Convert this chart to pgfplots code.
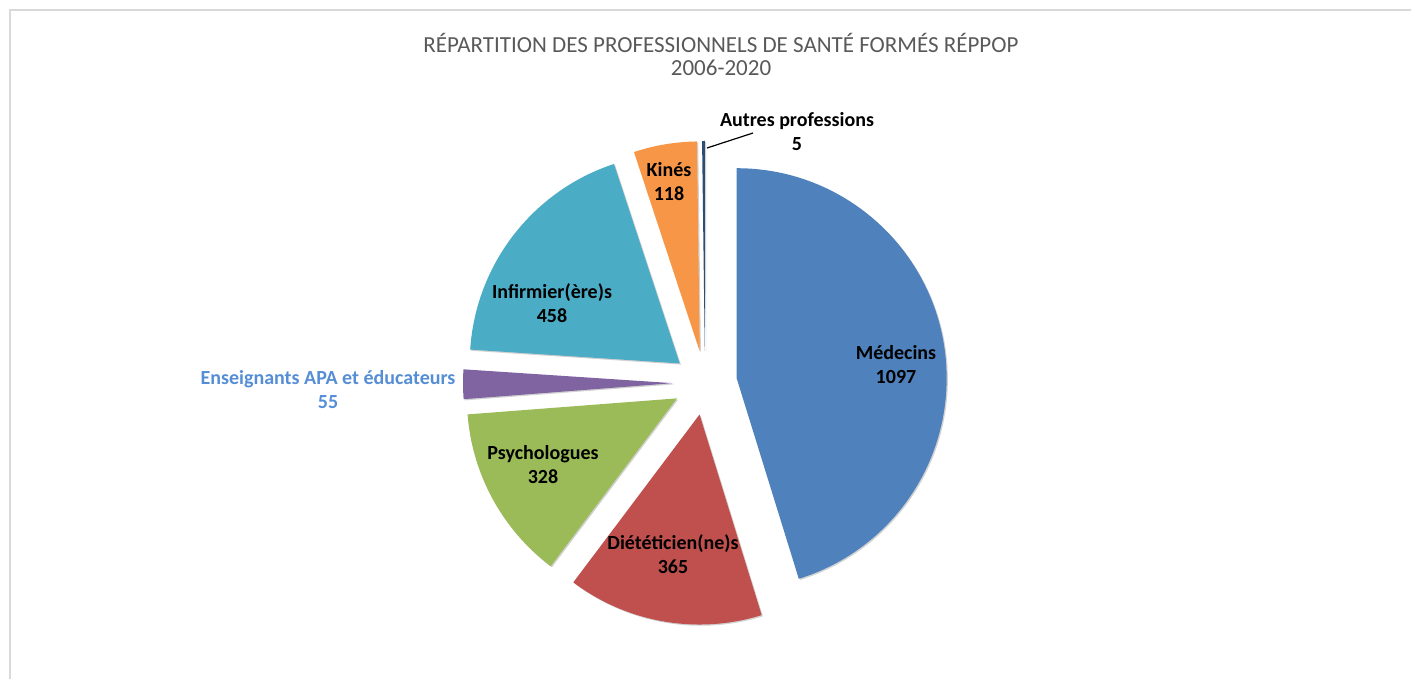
\documentclass[border=0pt]{standalone}
\usepackage{pgfplots}
\pgfplotsset{compat=1.18}
\usepackage{pgfplotstable}
\usepackage{fontspec}
\setmainfont{Carlito}
\usetikzlibrary{calc,shadows}

\definecolor{cMed}{HTML}{4F81BD}
\definecolor{cDiet}{HTML}{C0504D}
\definecolor{cPsy}{HTML}{9BBB59}
\definecolor{cEns}{HTML}{8064A2}
\definecolor{cInf}{HTML}{4BACC6}
\definecolor{cKin}{HTML}{F79646}
\definecolor{cAut}{HTML}{2C4D75}
\definecolor{titlegray}{HTML}{595959}
\definecolor{enslabel}{HTML}{558ED5}

\tikzset{lab/.style={font=\bfseries\fontsize{10}{12}\selectfont, align=center, text=black}}

% counts per profession, clockwise from 12 o'clock
\pgfplotstableread{
val  col
1097 cMed
365  cDiet
328  cPsy
55   cEns
458  cInf
118  cKin
5    cAut
}\piedata

\begin{document}
\begin{tikzpicture}
\begin{axis}[
  scale only axis,
  width=705.5pt, height=339.5pt,
  xmin=0, xmax=1411, ymin=0, ymax=679,
  hide axis, clip=false,
]
\pgfplotsextra{%
  \def\total{0}%
  \pgfplotsforeachungrouped \i in {0,...,6}{%
    \pgfplotstablegetelem{\i}{val}\of\piedata
    \pgfmathsetmacro\total{\total+\pgfplotsretval}}%
  \def\cum{0}%
  \pgfplotsforeachungrouped \i in {0,...,6}{%
    \pgfplotstablegetelem{\i}{val}\of\piedata \let\sval\pgfplotsretval
    \pgfplotstablegetelem{\i}{col}\of\piedata \let\scol\pgfplotsretval
    \pgfmathsetmacro\sa{90-360*(\cum/\total)}%
    \pgfmathsetmacro\cum{\cum+\sval}%
    \pgfmathsetmacro\sb{90-360*(\cum/\total)}%
    \pgfmathsetmacro\sm{(\sa+\sb)/2}%
    \fill[\scol, drop shadow={shadow xshift=0.6pt, shadow yshift=-0.6pt, opacity=0.18, fill=black}]
      ($(axis cs:705,296)+(\sm:16pt)$) -- ++(\sa:105pt)
      arc[start angle=\sa, end angle=\sb, radius=105pt] -- cycle;
  }%
}

% frame
\draw[black!15, line width=0.6pt] (axis cs:10,0) -- (axis cs:10,669) -- (axis cs:1411,669);

% title
\node[text=titlegray, font=\fontsize{11.5}{13}\selectfont] at (axis cs:721,636) {RÉPARTITION DES PROFESSIONNELS DE SANTÉ FORMÉS RÉPPOP};
\node[text=titlegray, font=\fontsize{11.5}{13}\selectfont] at (axis cs:721,611) {2006-2020};

% data labels
\node[lab] at (axis cs:896,314) {Médecins\\1097};
\node[lab] at (axis cs:673,124.5) {Diététicien(ne)s\\365};
\node[lab] at (axis cs:543,214.5) {Psychologues\\328};
\node[lab, text=enslabel] at (axis cs:328,289.5) {Enseignants APA et éducateurs\\55};
\node[lab] at (axis cs:552,375.5) {Infirmier(ère)s\\458};
\node[lab] at (axis cs:669,497.5) {Kinés\\118};
\node[lab] at (axis cs:797,547.5) {Autres professions\\5};
\draw[black, line width=0.6pt] (axis cs:707,531) -- (axis cs:753,546);
\end{axis}
\pgfresetboundingbox
\useasboundingbox (current axis.south west) rectangle (current axis.north east);
\end{tikzpicture}
\end{document}
